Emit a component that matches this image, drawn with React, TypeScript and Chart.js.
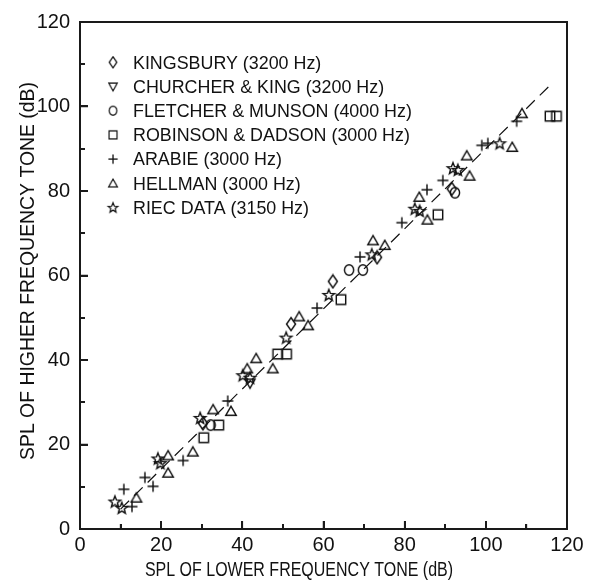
import React, { useEffect, useRef } from "react";
import { Chart, registerables } from "chart.js";

Chart.register(...registerables);

// ---------- data ----------
const seriesNames = [
  "KINGSBURY (3200 Hz)",
  "CHURCHER & KING (3200 Hz)",
  "FLETCHER & MUNSON (4000 Hz)",
  "ROBINSON & DADSON (3000 Hz)",
  "ARABIE (3000 Hz)",
  "HELLMAN (3000 Hz)",
  "RIEC DATA (3150 Hz)",
];

const kingsburyX = [30.3, 52, 62.3, 73.2, 91.6];
const kingsburyY = [25, 48.5, 58.6, 64.3, 80.5];

const churcherX = [41.9];
const churcherY = [34.5];

const fletcherX = [32.2, 66.3, 69.7, 92.4];
const fletcherY = [24.6, 61.3, 61.3, 79.6];

const robinsonX = [30.5, 34.2, 48.7, 50.9, 64.3, 88.2, 115.8, 117.4];
const robinsonY = [21.6, 24.6, 41.4, 41.4, 54.3, 74.4, 97.7, 97.7];

const arabieX = [10.8, 12.8, 16, 18, 25.4, 36.4, 58.4, 69, 79.3, 85.5, 89.4, 99, 100.5, 107.6];
const arabieY = [9.4, 5.3, 12.2, 10.1, 16.2, 30.3, 52.3, 64.4, 72.5, 80.3, 82.5, 90.8, 91.3, 96.5];

const hellmanX = [13.9, 21.7, 21.7, 27.8, 32.8, 37.2, 41.2, 43.4, 47.5, 54, 56.2, 72.2, 75.1, 83.6, 85.6, 95.3, 96, 106.5, 108.9];
const hellmanY = [7.4, 17.4, 13.3, 18.3, 28.3, 27.9, 38, 40.4, 38, 50.3, 48.2, 68.3, 67.2, 78.6, 73.2, 88.4, 83.6, 90.4, 98.4];

const riecX = [8.6, 10.3, 19.2, 19.8, 29.6, 40.1, 41.9, 50.8, 61.3, 71.9, 82.5, 83.7, 91.9, 93.1, 103.4];
const riecY = [6.5, 5, 16.7, 15.6, 26.3, 36.4, 35.8, 45.3, 55.4, 65, 75.8, 75.3, 85.4, 85, 91.3];

const fitX = [10, 116];
const fitY = [4.7, 105.2];

const tickValues = [0, 10, 20, 30, 40, 50, 60, 70, 80, 90, 100, 110, 120];

const xTitle = "SPL OF LOWER FREQUENCY TONE (dB)";
const yTitle = "SPL OF HIGHER FREQUENCY TONE (dB)";

// ---------- styling ----------
const FAMILY = "'Liberation Sans', 'DejaVu Sans', sans-serif";
const INK = "#111111";
const AXIS = "#1a1a1a";

type Kind = "diamond" | "invtri" | "circle" | "square" | "plus" | "triangle" | "star";
const kinds: Kind[] = ["diamond", "invtri", "circle", "square", "plus", "triangle", "star"];

function makeMarker(kind: Kind): HTMLCanvasElement {
  const c = document.createElement("canvas");
  const W = 16, H = 16;
  c.width = W; c.height = H;
  const g = c.getContext("2d")!;
  g.strokeStyle = INK;
  g.lineWidth = 1.45;
  g.lineJoin = "miter";
  const cx = W / 2, cy = H / 2;
  g.beginPath();
  switch (kind) {
    case "diamond":
      g.moveTo(cx, cy - 6.5); g.lineTo(cx + 4.5, cy); g.lineTo(cx, cy + 6.5); g.lineTo(cx - 4.5, cy); g.closePath();
      break;
    case "invtri":
      g.moveTo(cx - 5, cy - 4); g.lineTo(cx + 5, cy - 4); g.lineTo(cx, cy + 5); g.closePath();
      break;
    case "circle":
      g.ellipse(cx, cy, 4.6, 5.2, 0, 0, Math.PI * 2);
      break;
    case "square":
      g.rect(cx - 4.7, cy - 4.7, 9.4, 9.4);
      break;
    case "plus":
      g.moveTo(cx - 5.5, cy); g.lineTo(cx + 5.5, cy); g.moveTo(cx, cy - 5.5); g.lineTo(cx, cy + 5.5);
      break;
    case "triangle":
      g.moveTo(cx - 5.2, cy + 4.2); g.lineTo(cx + 5.2, cy + 4.2); g.lineTo(cx, cy - 4.8); g.closePath();
      break;
    case "star": {
      const R = 6, r = 2.6;
      for (let i = 0; i < 10; i++) {
        const a = -Math.PI / 2 + (i * Math.PI) / 5;
        const rr = i % 2 === 0 ? R : r;
        const px = cx + rr * Math.cos(a), py = cy + 0.5 + rr * Math.sin(a);
        if (i === 0) g.moveTo(px, py); else g.lineTo(px, py);
      }
      g.closePath();
      break;
    }
  }
  g.stroke();
  return c;
}

function pts(xs: number[], ys: number[]) {
  return xs.map((x, i) => ({ x, y: ys[i] }));
}

function squeezedText(ctx: CanvasRenderingContext2D, text: string, x: number, y: number, sx: number) {
  ctx.save();
  ctx.translate(x, y);
  ctx.scale(sx, 1);
  ctx.fillText(text, 0, 0);
  ctx.restore();
}

function addDiv(host: HTMLElement, l: number, t: number, w: number, h: number, extra?: Partial<CSSStyleDeclaration>) {
  const d = document.createElement("div");
  d.style.position = "absolute";
  d.style.left = l + "px";
  d.style.top = t + "px";
  d.style.width = w + "px";
  d.style.height = h + "px";
  d.style.pointerEvents = "none";
  if (extra) Object.assign(d.style, extra);
  host.appendChild(d);
}

export default function App() {
  const ref = useRef<HTMLCanvasElement | null>(null);
  const overlayRef = useRef<HTMLDivElement | null>(null);

  useEffect(() => {
    const canvas = ref.current;
    const host = overlayRef.current;
    if (!canvas || !host) return;
    const markers = kinds.map(makeMarker);
    const seriesX = [kingsburyX, churcherX, fletcherX, robinsonX, arabieX, hellmanX, riecX];
    const seriesY = [kingsburyY, churcherY, fletcherY, robinsonY, arabieY, hellmanY, riecY];

    const decor = {
      id: "decor",
      afterDraw(chart: any) {
        const ctx: CanvasRenderingContext2D = chart.ctx;
        const ca = chart.chartArea;
        const xs = chart.scales.x, ys = chart.scales.y;
        ctx.save();
        ctx.setLineDash([]);
        ctx.strokeStyle = AXIS;
        ctx.lineWidth = 1.5;
        ctx.strokeRect(ca.left, ca.top, ca.right - ca.left, ca.bottom - ca.top);
        for (const v of tickValues) {
          const len = v % 20 === 0 ? 8 : 5;
          const px = xs.getPixelForValue(v);
          ctx.beginPath(); ctx.moveTo(px, ca.bottom); ctx.lineTo(px, ca.bottom - len); ctx.stroke();
          const py = ys.getPixelForValue(v);
          ctx.beginPath(); ctx.moveTo(ca.left, py); ctx.lineTo(ca.left + len, py); ctx.stroke();
        }
        ctx.fillStyle = INK;
        ctx.textAlign = "center";
        ctx.textBaseline = "middle";
        ctx.font = `20px ${FAMILY}`;
        squeezedText(ctx, xTitle, ca.left + 219, ca.bottom + 41, 0.8);
        ctx.save();
        ctx.translate(28, ca.top + 249);
        ctx.rotate(-Math.PI / 2);
        ctx.font = `20px ${FAMILY}`;
        squeezedText(ctx, yTitle, 0, 0, 0.97);
        ctx.restore();
        ctx.font = `19px ${FAMILY}`;
        ctx.textAlign = "left";
        ctx.textBaseline = "middle";
        seriesNames.forEach((name, i) => {
          const y = ca.top + 40.3 + i * 24.2;
          const m = markers[i];
          const s = 0.85;
          ctx.drawImage(m, ca.left + 33 - (m.width * s) / 2, y - (m.height * s) / 2, m.width * s, m.height * s);
          squeezedText(ctx, name, ca.left + 53, y + 1, 0.94);
        });
        ctx.restore();
      },
    };

    const datasets: any[] = seriesNames.map((name, i) => ({
      label: name,
      data: pts(seriesX[i], seriesY[i]),
      pointStyle: markers[i],
      pointRadius: 6,
      showLine: false,
    }));
    datasets.push({
      label: "fit",
      data: pts(fitX, fitY),
      showLine: true,
      pointRadius: 0,
      borderColor: INK,
      borderWidth: 1.2,
      borderDash: [12, 7],
      fill: false,
    });

    const tickFont = { family: FAMILY, size: 20 };
    const chart = new Chart(canvas, {
      type: "scatter",
      data: { datasets },
      options: {
        responsive: false,
        animation: false,
        devicePixelRatio: 1,
        layout: { padding: { left: 0, right: 45, top: 18, bottom: 0 } },
        plugins: { legend: { display: false }, tooltip: { enabled: false } },
        scales: {
          x: {
            type: "linear",
            min: 0,
            max: 120,
            grid: { display: true, drawOnChartArea: false, drawTicks: false, color: "rgba(0,0,0,0)" },
            border: { display: true, color: AXIS, width: 1.5 },
            ticks: { stepSize: 20, font: tickFont, color: INK, padding: 4, maxRotation: 0 },
            afterFit: (s: any) => { s.height = 51; },
          },
          y: {
            type: "linear",
            min: 0,
            max: 120,
            grid: { display: true, drawOnChartArea: false, drawTicks: false, color: "rgba(0,0,0,0)" },
            border: { display: true, color: AXIS, width: 1.5 },
            ticks: { stepSize: 20, font: tickFont, color: INK, padding: 10 },
            afterFit: (s: any) => { s.width = 80; },
          },
        },
      },
      plugins: [decor],
    });

    // frame and inward ticks as an HTML layer, positioned from the chart's scales
    const ca = chart.chartArea;
    const L = Math.round(ca.left), T = Math.round(ca.top), R = Math.round(ca.right), B = Math.round(ca.bottom);
    addDiv(host, L - 1, T - 1, R - L + 2, B - T + 2, { boxSizing: "border-box", border: `2px solid ${AXIS}` } as any);
    tickValues.forEach((v) => {
      const len = v % 20 === 0 ? 8 : 5;
      const px = Math.round(chart.scales.x.getPixelForValue(v));
      const py = Math.round(chart.scales.y.getPixelForValue(v));
      addDiv(host, px - 1, B - len, 2, len, { background: AXIS } as any);
      addDiv(host, L, py - 1, len, 2, { background: AXIS } as any);
    });

    return () => {
      chart.destroy();
      while (host.firstChild) host.removeChild(host.firstChild);
    };
  }, []);

  return (
    <div style={{ position: "fixed", left: 0, top: 0, width: 612, height: 580, background: "#fff" }}>
      <canvas ref={ref} width={612} height={580} style={{ display: "block", width: 612, height: 580 }} />
      <div ref={overlayRef} style={{ position: "absolute", left: 0, top: 0, width: 612, height: 580, pointerEvents: "none" }} />
    </div>
  );
}
